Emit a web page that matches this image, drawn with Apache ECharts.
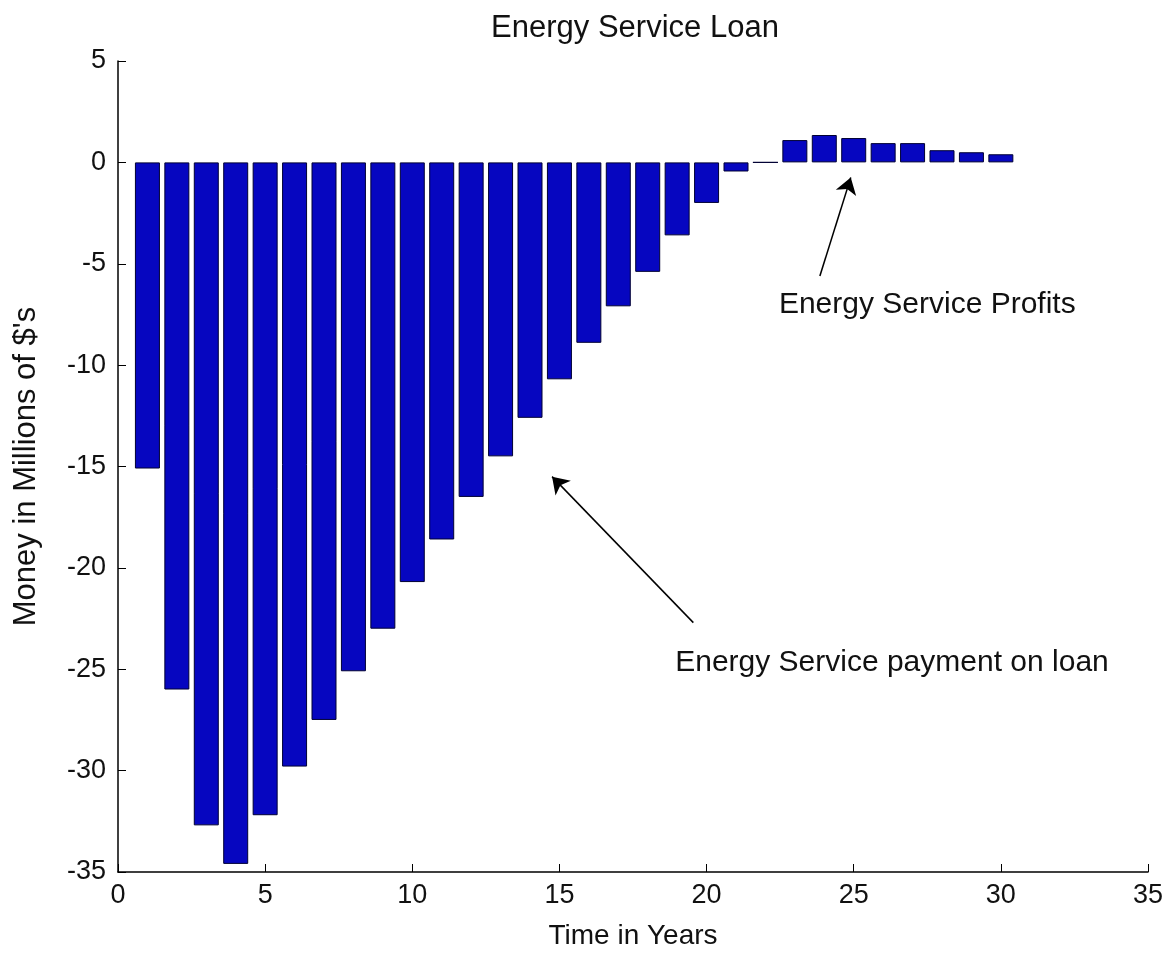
<!DOCTYPE html>
<html>
<head>
<meta charset="utf-8">
<script src="https://cdn.jsdelivr.net/npm/echarts@6/dist/echarts.min.js"></script>
<style>
  html, body { margin: 0; padding: 0; background: #fff; }
  #chart { width: 1167px; height: 955px; }
</style>
</head>
<body>
<div id="chart"></div>
<script>
// years 1..30 and yearly cash flow (millions of $)
const years = [1, 2, 3, 4, 5, 6, 7, 8, 9, 10, 11, 12, 13, 14, 15,
  16, 17, 18, 19, 20, 21, 22, 23, 24, 25, 26, 27, 28, 29, 30];
const money = [-15.1, -26.0, -32.7, -34.6, -32.2, -29.8, -27.5, -25.1, -23.0, -20.7,
  -18.6, -16.5, -14.5, -12.6, -10.7, -8.9, -7.1, -5.4, -3.6, -2.0,
  -0.45, 0, 1.1, 1.35, 1.2, 0.95, 0.95, 0.6, 0.5, 0.4];

// annotations: arrow start/end and text position, in data units
const notes = [
  { text: "Energy Service Profits", from: [23.85, -5.6], to: [24.9, -0.75], at: [27.5, -7.0] },
  { text: "Energy Service payment on loan", from: [19.55, -22.7], to: [14.75, -15.5], at: [26.3, -24.7] }
];

const font = "Liberation Sans, Arial, sans-serif";
const myChart = echarts.init(document.getElementById("chart"));

let option = {
  backgroundColor: "#fff",
  animation: false,
  title: {
    text: "Energy Service Loan",
    left: 630,
    textAlign: "center",
    top: 8,
    textStyle: { fontFamily: font, fontSize: 31, fontWeight: "normal", color: "#111" }
  },
  grid: { left: 118, right: 19, top: 61, bottom: 82 },
  xAxis: {
    type: "value",
    min: 0,
    max: 35,
    interval: 5,
    name: "Time in Years",
    nameLocation: "middle",
    nameGap: 50,
    nameTextStyle: { fontFamily: font, fontSize: 28, color: "#111" },
    axisLine: { onZero: false, lineStyle: { color: "#000", width: 1.5 } },
    axisTick: { inside: true, length: 8, lineStyle: { color: "#000" } },
    axisLabel: { fontFamily: font, fontSize: 27, color: "#111", margin: 10 },
    splitLine: { show: false }
  },
  yAxis: {
    type: "value",
    min: -35,
    max: 5,
    interval: 5,
    name: "Money in Millions of $'s",
    nameLocation: "middle",
    nameGap: 76,
    nameTextStyle: { fontFamily: font, fontSize: 31, color: "#111" },
    axisLine: { onZero: false, lineStyle: { color: "#000", width: 1.5 } },
    axisTick: { inside: true, length: 8, lineStyle: { color: "#000" } },
    axisLabel: { fontFamily: font, fontSize: 27, color: "#111", margin: 12 },
    splitLine: { show: false }
  },
  series: [
    {
      type: "bar",
      data: years.map((x, i) => [x, money[i]]),
      barWidth: 25,
      itemStyle: { color: "#0606c0", borderColor: "#000033", borderWidth: 1 },
      emphasis: { disabled: true },
      markLine: {
        silent: true,
        symbol: ["none", "arrow"],
        symbolSize: 16,
        label: { show: false },
        lineStyle: { color: "#000", width: 1.5, type: "solid" },
        data: notes.map(n => [{ coord: n.from }, { coord: n.to }])
      }
    }
  ]
};
myChart.setOption(option);

// text labels placed at data positions
myChart.setOption({
  graphic: notes.map(n => {
    const p = myChart.convertToPixel({ gridIndex: 0 }, n.at);
    return {
      type: "text",
      x: p[0],
      y: p[1],
      style: {
        text: n.text,
        font: "30px " + font,
        fill: "#111",
        textAlign: "center",
        textVerticalAlign: "middle"
      }
    };
  })
});
</script>
</body>
</html>
